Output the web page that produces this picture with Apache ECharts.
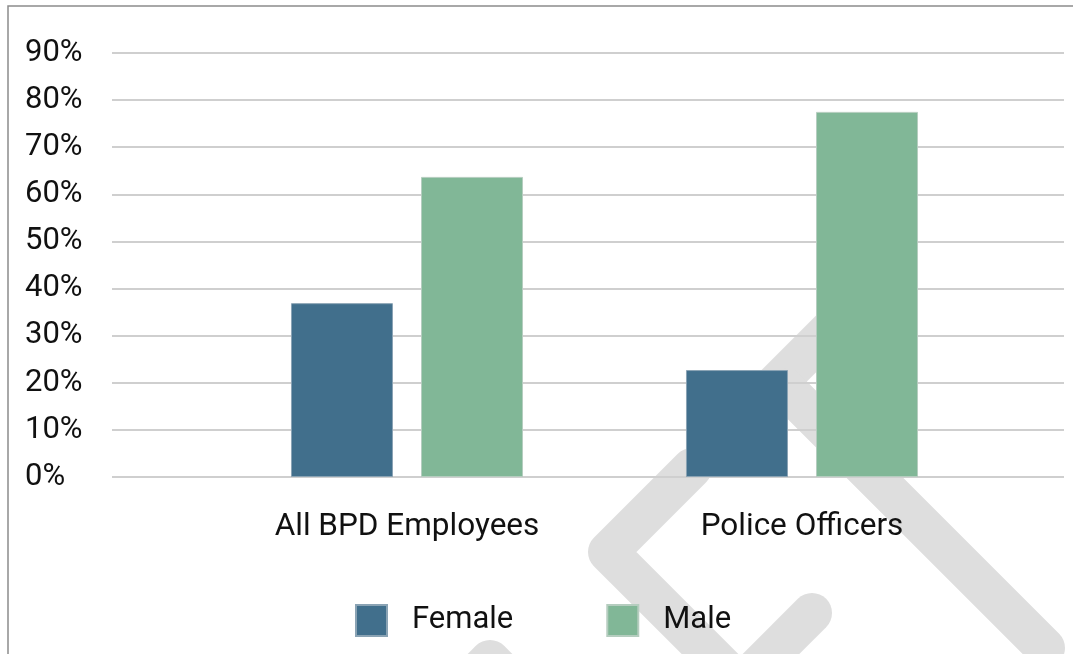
<!DOCTYPE html>
<html>
<head>
<meta charset="utf-8">
<title>BPD workforce by gender</title>
<script src="https://cdn.jsdelivr.net/npm/echarts@6/dist/echarts.min.js"></script>
<style>
  html, body { margin: 0; padding: 0; background: #ffffff; }
  #chart { width: 1073px; height: 654px; }
</style>
</head>
<body>
<div id="chart"></div>
<script>
// Share of employees by gender, in percent
const categories = ['All BPD Employees', 'Police Officers'];
const femaleShare = [36.9, 22.7];
const maleShare = [63.7, 77.5];
const seriesNames = ['Female', 'Male'];

// Value axis range and step (percent)
const yMin = 0;
const yMax = 90;
const yStep = 10;

const FEMALE_COLOR = '#416f8c';
const MALE_COLOR = '#81b797';
const TEXT_FONT = 'Roboto, "Liberation Sans", Arial, sans-serif';

// Light grey backdrop emblem, drawn as thick rounded strokes
const emblemStyle = {
  stroke: '#dedede',
  lineWidth: 40,
  lineCap: 'round',
  lineJoin: 'round',
  fill: null
};
function emblemStroke(points) {
  return { type: 'polyline', z: -10, silent: true, shape: { points: points }, style: emblemStyle };
}

const chart = echarts.init(document.getElementById('chart'), null, { renderer: 'canvas' });

chart.setOption({
  animation: false,
  backgroundColor: '#ffffff',
  textStyle: { fontFamily: TEXT_FONT },
  graphic: [
    emblemStroke([[862, 298], [735, 425]]),
    emblemStroke([[692, 468], [608, 552], [770, 714]]),
    emblemStroke([[785, 388], [1045, 648]]),
    emblemStroke([[812, 613], [730, 695]]),
    emblemStroke([[450, 700], [490, 660], [530, 700]]),
    {
      type: 'rect', z: 100, silent: true,
      shape: { x: 8, y: 6, width: 1200, height: 800 },
      style: { fill: null, stroke: '#8c8c8c', lineWidth: 1.5 }
    }
  ],
  grid: [
    // full-width grid carrying the percentage gridlines
    { left: 112, right: 9, top: 53, bottom: 177 },
    // grid holding the bars and category labels
    { left: 209.5, right: 73.5, top: 53, bottom: 177 }
  ],
  xAxis: [
    { gridIndex: 0, type: 'value', show: false },
    {
      gridIndex: 1,
      type: 'category',
      data: categories,
      axisLine: { show: false },
      axisTick: { show: false },
      axisLabel: {
        fontSize: 31.5,
        color: '#111111',
        margin: 34,
        fontFamily: TEXT_FONT
      }
    }
  ],
  yAxis: [
    {
      gridIndex: 0,
      type: 'value',
      min: yMin,
      max: yMax,
      interval: yStep,
      axisLine: { show: false },
      axisTick: { show: false },
      axisLabel: {
        formatter: '{value}%',
        align: 'left',
        margin: 87,
        fontSize: 31,
        color: '#111111',
        fontFamily: TEXT_FONT
      },
      splitLine: { lineStyle: { color: '#cfcfcf', width: 2 } }
    },
    {
      gridIndex: 1,
      type: 'value',
      min: yMin,
      max: yMax,
      interval: yStep,
      show: false,
      splitLine: { show: false }
    }
  ],
  legend: {
    left: 355,
    top: 604,
    padding: 0,
    itemWidth: 31,
    itemHeight: 31,
    itemGap: 93,
    icon: 'rect',
    data: seriesNames,
    textStyle: {
      fontSize: 31,
      color: '#111111',
      fontFamily: TEXT_FONT,
      padding: [4, 0, 0, 20]
    }
  },
  series: [
    {
      name: seriesNames[0],
      type: 'bar',
      xAxisIndex: 1,
      yAxisIndex: 1,
      data: femaleShare,
      barWidth: 102,
      barGap: '27.5%',
      itemStyle: { color: FEMALE_COLOR, borderColor: '#8aa3b4', borderWidth: 1 }
    },
    {
      name: seriesNames[1],
      type: 'bar',
      xAxisIndex: 1,
      yAxisIndex: 1,
      data: maleShare,
      barWidth: 102,
      barGap: '27.5%',
      itemStyle: { color: MALE_COLOR, borderColor: '#b5cdbf', borderWidth: 1 }
    }
  ]
});
</script>
</body>
</html>
